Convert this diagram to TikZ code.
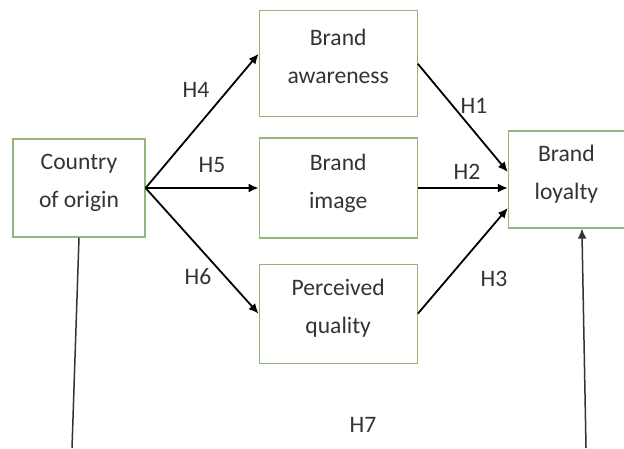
\documentclass[tikz,border=0pt]{standalone}
\usepackage{fontspec}
\setmainfont{Carlito}
\usepackage{xcolor}
\usetikzlibrary{arrows.meta,positioning,calc}
\definecolor{boxGreen}{HTML}{94B67C}
\definecolor{textGray}{HTML}{333333}

\begin{document}
\begin{tikzpicture}[
every node/.style={font=\fontsize{11.8}{19}\selectfont, text=textGray},
box/.style={draw=boxGreen, line width=0.6pt, align=center, inner sep=0pt, minimum height=49pt, text depth=7pt},
hyp/.style={inner sep=0pt},
arr/.style={-{Latex[length=5pt,width=4.5pt]}, line width=0.9pt},
vline/.style={line width=0.75pt, black!80}
]
\useasboundingbox (0,0) rectangle (312pt,-224pt);

% constructs
\node[box, minimum width=66pt, yshift=-1pt] (CO) at (39.5pt,-93pt) {Country\\of origin};
\node[box, minimum width=79pt, minimum height=50pt, right=56.5pt of CO] (BI) {Brand\\image};
\node[box, minimum width=79pt, minimum height=53pt, above=10pt of BI] (BA) {Brand\\awareness};
\node[box, minimum width=79pt, minimum height=49.5pt, below=12.5pt of BI] (PQ) {Perceived\\quality};
\node[box, minimum width=58pt, minimum height=48.5pt, right=45pt of BI, yshift=4.25pt] (BL) {Brand\\loyalty};

% country of origin -> brand equity
\draw[arr] (CO.east) -- ([yshift=5pt]BA.west);
\draw[arr] (CO.east) -- (BI.west);
\draw[arr] (CO.east) -- (PQ.west);

% brand equity -> loyalty
\draw[arr] (BA.east) -- ([yshift=3.75pt]BL.west);
\draw[arr] (BI.east) -- (BI.east -| BL.west);
\draw[arr] (PQ.east) -- ([yshift=-14.25pt]BL.west);

% direct path (runs off the bottom)
\coordinate (Lbot) at (36pt,-224pt);
\coordinate (Rbot) at (293pt,-224pt);
\draw[vline] (CO.south) -- (Lbot);
\draw[vline, -{Latex[length=5pt,width=4.5pt]}] (Rbot) -- ([xshift=7.75pt]BL.south);

% hypotheses
\node[hyp] (H4) at (98pt,-45pt) {H4};
\node[hyp] (H5) at (106pt,-82.5pt) {H5};
\node[hyp] (H6) at (99pt,-138.5pt) {H6};
\node[hyp] (H1) at (237pt,-53pt) {H1};
\node[hyp] (H2) at (233.5pt,-86pt) {H2};
\node[hyp] (H3) at (247pt,-139.5pt) {H3};
\node[hyp] (H7) at (181.5pt,-212.5pt) {H7};
\end{tikzpicture}
\end{document}
